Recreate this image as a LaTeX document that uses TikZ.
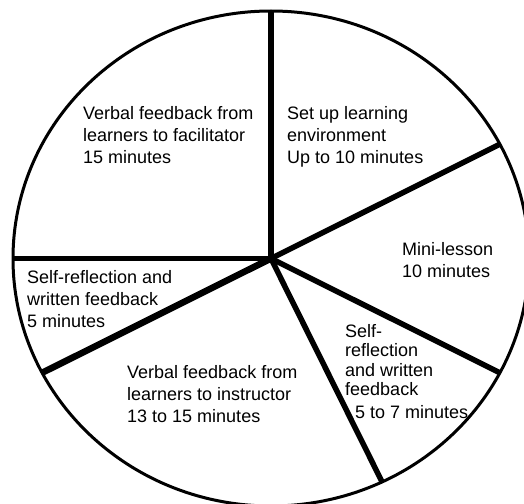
\documentclass[tikz,border=0pt]{standalone}
\usepackage{fontspec}
\setmainfont{Liberation Sans}

\begin{document}
\begin{tikzpicture}[x=1pt, y=-1pt, line join=round,
    rayon/.style={line width=5.5pt},
    etiquette/.style={anchor=north west, inner sep=0pt, align=left,
      font=\fontsize{18}{22}\selectfont}]
  \useasboundingbox (0,0) rectangle (524,503);
  % Demi-axes du disque
  \pgfmathsetmacro{\rx}{258}
  \pgfmathsetmacro{\ry}{247.5}
  \coordinate (c) at (271,258.5);
  % Contour
  \draw[line width=3pt] (c) ellipse [x radius=\rx, y radius=\ry];
  % Extrémités des rayons sur le contour
  \foreach \nom/\ang in {n/-90, ne/-27.5, se/27.5, s/64.5, so/152.5, o/180}
    \path (c) ++(\ang:{\rx} and {\ry}) coordinate (\nom);
  % Rayons
  \foreach \nom in {n, ne, se, s, o}
    \draw[rayon] (c) -- (\nom);
  \draw[rayon, line width=6.5pt] (c) -- (so);
  % Libellés des secteurs
  \node[etiquette] (facil) at (83,106) {Verbal feedback from\\learners to facilitator\\15 minutes};
  \node[etiquette] (envir) at (287,106) {Set up learning\\environment\\Up to 10 minutes};
  \node[etiquette] (lecon) at (402,242) {Mini-lesson\\10 minutes};
  \node[etiquette] (ecrit) at (27,270) {Self-reflection and\\written feedback\\5 minutes};
  \node[etiquette] (instr) at (127,365) {Verbal feedback from\\learners to instructor\\13 to 15 minutes};
  \node[etiquette, font=\fontsize{18}{19.5}\selectfont] (auto) at (345,324)
    {Self-\\reflection\\and written\\feedback\\[3pt]\hspace*{10pt}5 to 7 minutes};
\end{tikzpicture}
\end{document}
